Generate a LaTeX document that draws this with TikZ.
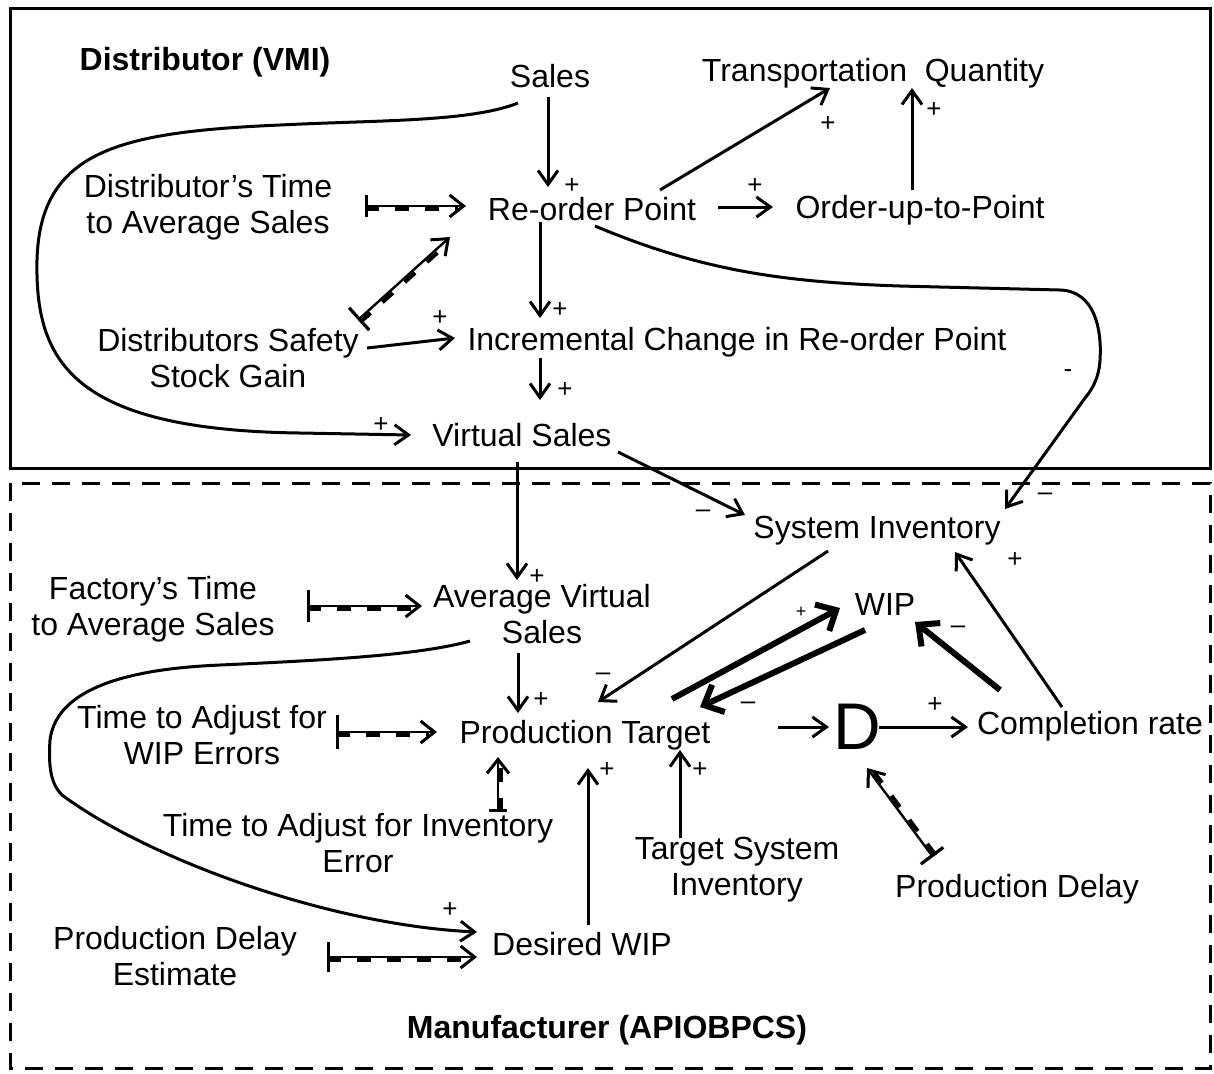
\documentclass[tikz,border=0pt]{standalone}
\usepackage{fontspec}
\setmainfont{Liberation Sans}
\usetikzlibrary{arrows.meta,calc}
\newcommand\dlink[3][14pt]{%
  \draw[line width=1.2pt,{Bar[width=#1,line width=1.6pt]}-{Straight Barb[length=7pt,width=11pt,line width=1.5pt]}] (#2) -- (#3);
  \draw[line width=2pt,dash pattern=on 7pt off 8pt,shorten >=4pt] ($(#2)!1.6pt!-90:(#3)$) -- ($(#3)!1.6pt!90:(#2)$);
}
\begin{document}
\begin{tikzpicture}[x=0.5pt,y=-0.5pt,
  lbl/.style={font=\fontsize{16}{18}\selectfont, align=center, inner sep=0pt},
  hdr/.style={font=\fontsize{16}{18}\selectfont\bfseries, inner sep=0pt},
  sgn/.style={font=\fontsize{13}{13}\selectfont, inner sep=0pt},
  arr/.style={line width=1.5pt, -{Straight Barb[length=7pt,width=10pt]}},
  tarr/.style={line width=3pt, -{Straight Barb[length=8pt,width=15pt]}}]
\useasboundingbox (0,0) rectangle (1214,1073);
% boxes
\draw[line width=1.5pt] (10,8) rectangle (1210,468);
\draw[line width=1.5pt, dash pattern=on 9pt off 6pt] (10,483) rectangle (1210,1068);
% headers
\node[hdr] (hd1) at (205,62) {Distributor (VMI)};
\node[hdr] (hd2) at (607,1030) {Manufacturer (APIOBPCS)};
% nodes
\node[lbl] (sales) at (550,76) {Sales};
\node[lbl] (tq) at (873,73) {Transportation~~Quantity};
\node[lbl] (dtime) at (208,207) {Distributor’s Time\\to Average Sales};
\node[lbl] (reorder) at (592,209) {Re-order Point};
\node[lbl] (outp) at (920,210) {Order-up-to-Point};
\node[lbl] (dss) at (228,358) {Distributors Safety\\Stock Gain};
\node[lbl] (icrop) at (737,342) {Incremental Change in Re-order Point};
\node[lbl] (vs) at (522,435) {Virtual Sales};
\node[lbl] (sysinv) at (877,531) {System Inventory};
\node[lbl] (ftime) at (153,609) {Factory’s Time\\to Average Sales};
\node[lbl] (avs) at (542,614) {Average Virtual\\Sales};
\node[lbl] (wip) at (885,604) {WIP};
\node[lbl] (twip) at (202,735) {Time to Adjust for\\WIP Errors};
\node[lbl] (pt) at (585,735) {Production Target};
\node[font=\fontsize{33}{34}\selectfont, inner sep=0pt] (D) at (857,727) {D};
\node[lbl] (comp) at (1090,726) {Completion rate};
\node[lbl] (tinv) at (358,843) {Time to Adjust for Inventory\\Error};
\node[lbl] (tsi) at (737,870) {Target System\\Inventory};
\node[lbl] (pdelay) at (1017,889) {Production Delay};
\node[lbl] (pde) at (175,956) {Production Delay\\Estimate};
\node[lbl] (dwip) at (582,944) {Desired WIP};
% plain arrows
\draw[arr] ($(sales)+(-2,21)$) -- ($(reorder)+(-44,-22)$);
\draw[arr] ($(sales)+(-32,27)$) .. controls (470,122) and (380,120) .. (280,125)
   .. controls (120,132) and (40,150) .. (37,260)
   .. controls (35,360) and (70,430) .. (300,433) -- ($(vs)+(-111,0)$);
\draw[arr] ($(reorder)+(68,-19)$) -- ($(tq)+(-43,15)$);
\draw[arr] ($(outp)+(-8,-20)$) -- ($(tq)+(39,15)$);
\draw[arr] ($(reorder)+(126,-2)$) -- ($(outp)+(-147,-3)$);
\draw[arr] ($(reorder)+(-52,13)$) -- ($(icrop)+(-197,-24)$);
\draw[arr] ($(dss)+(139,-10)$) -- ($(icrop)+(-282,-4)$);
\draw[arr] ($(icrop)+(-197,16)$) -- ($(vs)+(18,-35)$);
\draw[arr] ($(reorder)+(3,17)$) .. controls (700,270) and (780,282) .. (900,286) -- (1060,290)
   .. controls (1095,291) and (1102,330) .. (1100,360)
   .. controls (1099,380) and (1090,392) .. (1085,398) -- ($(sysinv)+(128,-22)$);
\draw[arr] ($(vs)+(96,17)$) -- ($(sysinv)+(-132,-16)$);
\draw[arr] ($(vs)+(-5,27)$) -- ($(avs)+(-25,-34)$);
\draw[arr] ($(avs)+(-24,39)$) -- ($(pt)+(-67,-22)$);
\draw[arr] ($(sysinv)+(-49,20)$) -- ($(pt)+(13,-33)$);
\draw[arr] ($(avs)+(-72,27)$) .. controls (420,655) and (330,660) .. (220,665)
   .. controls (100,670) and (55,700) .. (50,740)
   .. controls (48,770) and (52,785) .. (62,795)
   .. controls (150,860) and (330,925) .. ($(dwip)+(-105,-12)$);
\draw[arr] ($(dwip)+(6,-19)$) -- ($(pt)+(3,33)$);
\draw[arr] ($(tsi)+(-57,-32)$) -- ($(pt)+(95,15)$);
\draw[arr] ($(pt)+(193,-8)$) -- ($(D)+(-28,0)$);
\draw[arr] ($(D)+(22,0)$) -- ($(comp)+(-122,1)$);
\draw[arr] ($(comp)+(-28,-19)$) -- ($(sysinv)+(78,21)$);
% thick arrows
\draw[tarr] ($(pt)+(87,-36)$) -- ($(wip)+(-45,4)$);
\draw[tarr] ($(wip)+(-20,26)$) -- ($(pt)+(115,-28)$);
\draw[tarr] ($(comp)+(-90,-36)$) -- ($(wip)+(30,18)$);
% delay links
\coordinate (d1a) at ($(dtime)+(157,-1)$);
\coordinate (d1b) at ($(reorder)+(-126,-3)$);
\dlink[11pt]{d1a}{d1b}
\coordinate (d2a) at ($(dss)+(130,-38)$);
\coordinate (d2b) at ($(reorder)+(-142,28)$);
\dlink[15pt]{d2a}{d2b}
\coordinate (d3a) at ($(ftime)+(154,-3)$);
\coordinate (d3b) at ($(avs)+(-120,-8)$);
\dlink[16pt]{d3a}{d3b}
\coordinate (d4a) at ($(twip)+(134,-3)$);
\coordinate (d4b) at ($(pt)+(-148,-3)$);
\dlink[17pt]{d4a}{d4b}
\coordinate (d5a) at ($(tinv)+(140,-31)$);
\coordinate (d5b) at ($(pt)+(-87,22)$);
\dlink[9pt]{d5a}{d5b}
\coordinate (d6a) at ($(pde)+(152,1)$);
\coordinate (d6b) at ($(dwip)+(-105,13)$);
\dlink[15pt]{d6a}{d6b}
\coordinate (d7a) at ($(pdelay)+(-84,-32)$);
\coordinate (d7b) at ($(D)+(10,41)$);
\dlink[14pt]{d7a}{d7b}
% signs
\node[sgn] (s1) at (572,186) {+};
\node[sgn] (s2) at (381,425) {+};
\node[sgn] (s3) at (828,124) {+};
\node[sgn] (s4) at (934,110) {+};
\node[sgn] (s5) at (755,186) {+};
\node[sgn] (s6) at (560,310) {+};
\node[sgn] (s7) at (440,318) {+};
\node[sgn] (s8) at (565,390) {+};
\node[sgn] (s9) at (1068,374) {-};
\node[sgn] (s10) at (703,514) {–};
\node[sgn] (s11) at (1045,497) {–};
\node[sgn] (s12) at (537,577) {+};
\node[sgn] (s13) at (541,700) {+};
\node[sgn] (s14) at (603,677) {–};
\node[sgn] (s15) at (450,910) {+};
\node[sgn] (s16) at (607,770) {+};
\node[sgn] (s17) at (700,770) {+};
\node[sgn] (s18) at (935,705) {+};
\node[sgn] (s19) at (1015,560) {+};
\node[sgn] (s20) at (958,630) {–};
\node[sgn] (s21) at (748,706) {–};
\node[font=\fontsize{9}{9}\selectfont, inner sep=0pt] (s22) at (801,612) {+};
\end{tikzpicture}
\end{document}
